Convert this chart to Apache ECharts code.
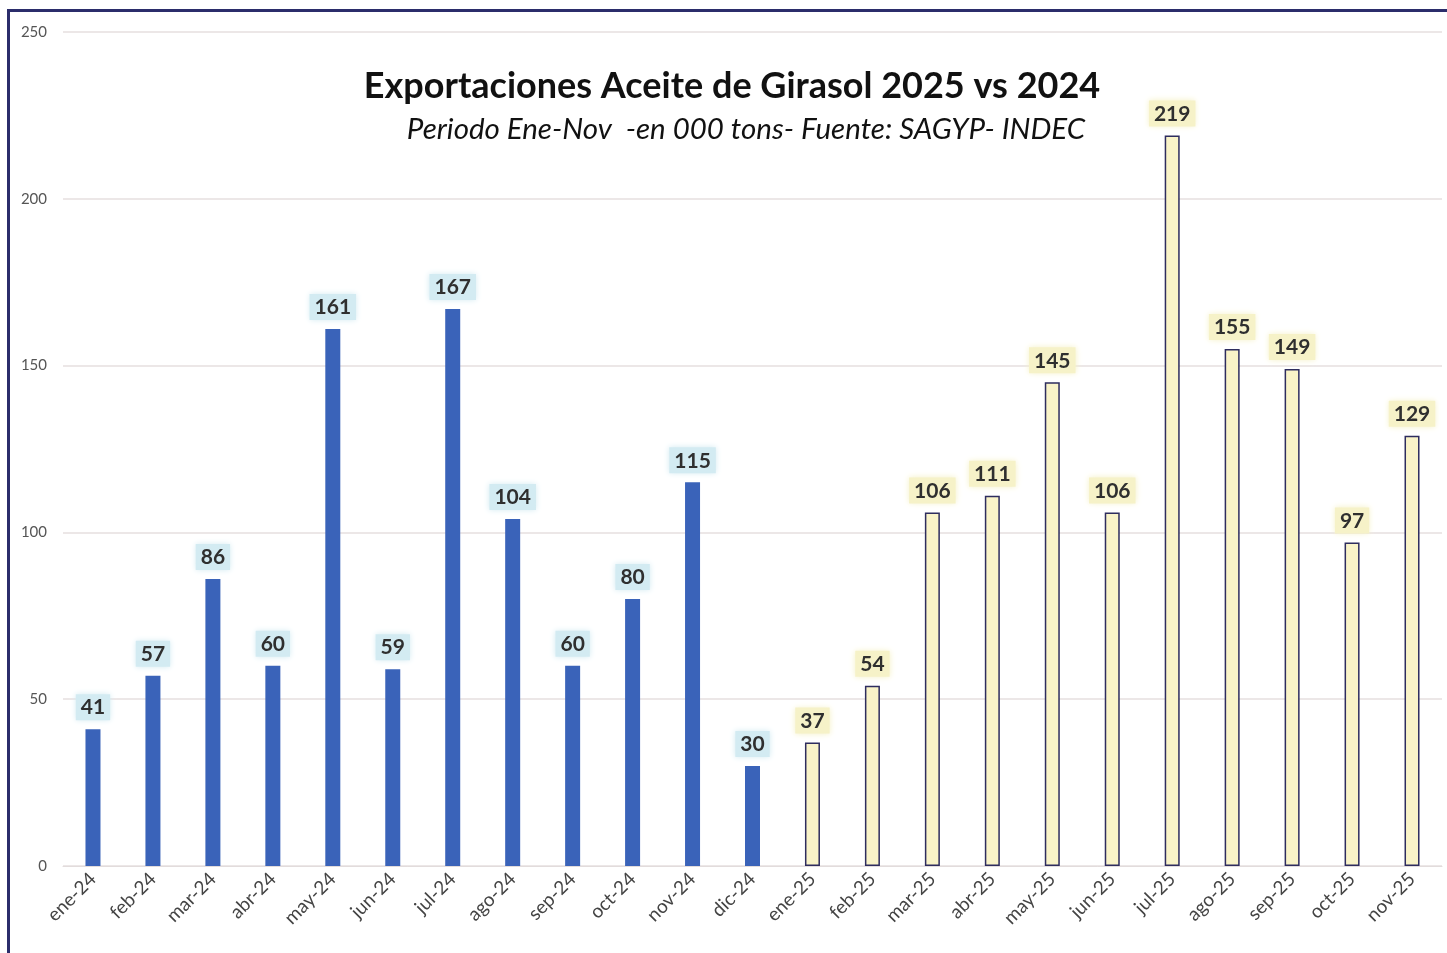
<!DOCTYPE html>
<html>
<head>
<meta charset="utf-8">
<script src="https://cdn.jsdelivr.net/npm/echarts@6/dist/echarts.min.js"></script>
<style>
  html, body { margin: 0; padding: 0; background: #fff; }
  #frame {
    position: absolute; left: 7px; top: 9px; right: 0; bottom: 0;
    border-left: 3px solid #2b2d6b; border-top: 3px solid #2b2d6b;
  }
  #chart { position: absolute; left: 0; top: 0; width: 1447px; height: 953px; }
</style>
</head>
<body>
<div id="frame"></div>
<div id="chart"></div>
<script>
const months = ['ene-24','feb-24','mar-24','abr-24','may-24','jun-24','jul-24','ago-24','sep-24','oct-24','nov-24','dic-24',
  'ene-25','feb-25','mar-25','abr-25','may-25','jun-25','jul-25','ago-25','sep-25','oct-25','nov-25']
const values2024 = [41, 57, 86, 60, 161, 59, 167, 104, 60, 80, 115, 30]
const values2025 = [37, 54, 106, 111, 145, 106, 219, 155, 149, 97, 129]

const titleText = 'Exportaciones Aceite de Girasol 2025 vs 2024'
const subtitleText = 'Periodo Ene-Nov  -en 000 tons- Fuente: SAGYP- INDEC'

// pad each series to the full category list
const data24 = months.map((m, i) => i < values2024.length ? values2024[i] : '-')
const data25 = months.map((m, i) => i >= values2024.length ? values2025[i - values2024.length] : '-')

const font = 'Lato, "Open Sans", sans-serif'

function labelStyle(bg) {
  return {
    show: true,
    position: 'top',
    distance: 9,
    fontFamily: font,
    fontWeight: 'bold',
    fontSize: 21,
    color: '#2f2f2f',
    backgroundColor: bg,
    padding: [3, 5, 2, 5],
    shadowColor: bg,
    shadowBlur: 6
  }
}

const chart = echarts.init(document.getElementById('chart'))
chart.setOption({
  animation: false,
  title: [
    {
      text: titleText,
      left: 727, top: 63, textAlign: 'center',
      textStyle: { fontFamily: font, fontWeight: 'bold', fontSize: 36, color: '#111' }
    },
    {
      text: subtitleText,
      left: 741, top: 109, textAlign: 'center',
      textStyle: { fontFamily: font, fontStyle: 'italic', fontWeight: 'normal', fontSize: 29.5, color: '#111' }
    }
  ],
  grid: { left: 63, right: 5, top: 32, bottom: 87, containLabel: false },
  xAxis: {
    type: 'category',
    data: months,
    axisTick: { show: false },
    axisLine: { lineStyle: { color: '#e2dcdc', width: 1 } },
    axisLabel: {
      rotate: 45, interval: 0, margin: 10,
      fontFamily: font, fontSize: 19, color: '#444'
    }
  },
  yAxis: {
    type: 'value',
    min: 0, max: 250, interval: 50,
    axisLine: { show: false },
    axisTick: { show: false },
    splitLine: { lineStyle: { color: '#e6dfdf', width: 1.5 } },
    axisLabel: { margin: 16, fontFamily: font, fontSize: 15, color: '#555' }
  },
  series: [
    {
      name: '2024', type: 'bar', data: data24,
      barWidth: 15, barGap: '-100%',
      itemStyle: { color: '#3a63b9' },
      label: labelStyle('#d3ebf2')
    },
    {
      name: '2025', type: 'bar', data: data25,
      barWidth: 15, barGap: '-100%',
      itemStyle: { color: '#f9f3c8', borderColor: '#2e2d5e', borderWidth: 1.5 },
      label: labelStyle('#f6f2c8')
    }
  ]
})
</script>
</body>
</html>
